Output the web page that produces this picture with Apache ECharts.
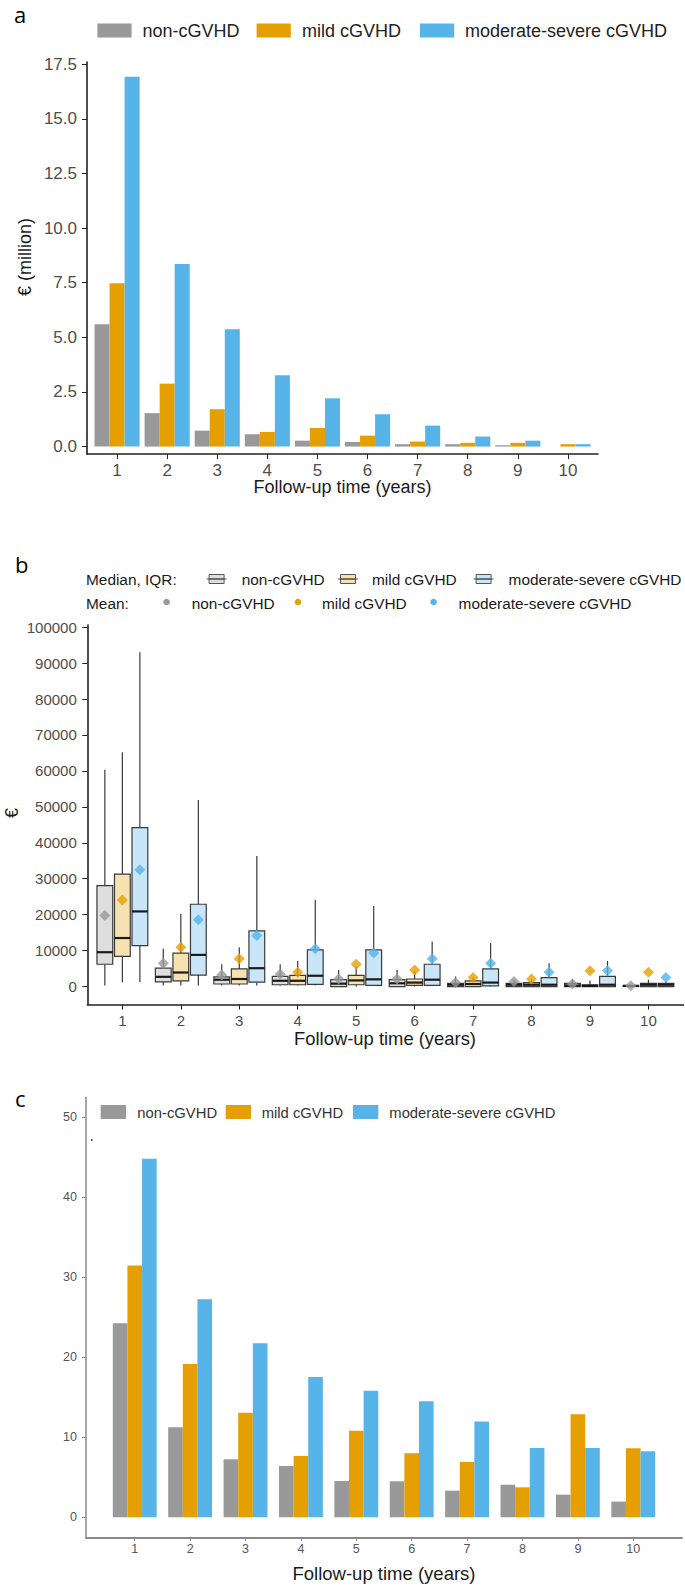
<!DOCTYPE html>
<html><head><meta charset="utf-8">
<script src="https://cdn.jsdelivr.net/npm/echarts@6/dist/echarts.min.js"></script>
<style>html,body{margin:0;padding:0;background:#fff}#c{width:685px;height:1586px}</style>
</head><body><div id="c"></div>
<script>
// ---------- data ----------
const years = [1, 2, 3, 4, 5, 6, 7, 8, 9, 10];
const groups = ['non-cGVHD', 'mild cGVHD', 'moderate-severe cGVHD'];

// Panel a: total cost per follow-up year (€ million)
const aNon  = [5.60, 1.53, 0.73, 0.56, 0.27, 0.21, 0.11, 0.11, 0.06, 0];
const aMild = [7.48, 2.88, 1.71, 0.67, 0.85, 0.50, 0.23, 0.17, 0.17, 0.11];
const aMod  = [16.93, 8.36, 5.37, 3.26, 2.21, 1.48, 0.96, 0.46, 0.27, 0.11];
const aTicks = [0, 2.5, 5, 7.5, 10, 12.5, 15, 17.5];

// Panel b: cost per patient (€): [lower whisker, Q1, median, Q3, upper whisker]
const bNonBox = [[300,6200,9550,28100,60300],[300,1300,2700,5100,10500],[300,700,1900,2700,6200],[300,500,1600,2800,6200],[0,0,800,1900,4600],[0,0,900,1900,4600],[0,0,500,900,2800],[0,0,500,900,1900],[0,0,300,900,2100],[0,0,200,200,200]];
const bMildBox = [[1200,8400,13500,31300,65200],[300,1600,3900,9300,20200],[300,700,2100,4900,10900],[300,500,1600,3100,7100],[0,500,1700,3100,5600],[0,300,1100,2100,4200],[0,0,700,1600,2500],[0,0,500,1100,1900],[0,0,200,500,1700],[0,0,500,900,1900]];
const bModBox = [[1200,11400,20900,44200,93000],[300,3200,8800,22900,51900],[300,1200,5100,15500,36300],[300,600,3000,10200,24100],[300,300,2000,10200,22400],[300,300,1900,6200,12500],[0,200,1100,4900,12100],[0,0,500,2500,6500],[0,0,500,2800,7100],[0,0,500,900,1400]];
const bNonMean  = [19800, 6500, 3200, 3400, 2100, 2100, 1100, 1400, 700, 200];
const bMildMean = [24100, 10900, 7700, 4000, 6200, 4600, 2500, 2100, 4400, 4000];
const bModMean  = [32500, 18600, 14200, 10500, 9300, 7700, 6500, 4000, 4400, 2500];
const bTicks = [0, 10000, 20000, 30000, 40000, 50000, 60000, 70000, 80000, 90000, 100000];

// Panel c
const cNon  = [24.25, 11.25, 7.25, 6.42, 4.54, 4.50, 3.33, 4.08, 2.83, 1.96];
const cMild = [31.46, 19.17, 13.08, 7.67, 10.83, 8.00, 6.92, 3.75, 12.88, 8.63];
const cMod  = [44.83, 27.25, 21.75, 17.54, 15.83, 14.50, 11.96, 8.67, 8.67, 8.25];
const cTicks = [0, 10, 20, 30, 40, 50];

// ---------- styles ----------
const COLORS = ['#999999', '#E69F00', '#56B4E9'];
const FILLS = ['#DEDEDE', '#F8E1B1', '#C9E6F8'];
const FONT = 'Liberation Sans, Arial, sans-serif';
const LETTER_FONT = 'Open Sans, Noto Sans, sans-serif';

const chart = echarts.init(document.getElementById('c'), null, {renderer: 'svg'});

function barSeries(name, vals, idx, axis, width) {
  const off = (idx - 1) * width;
  const color = COLORS[idx];
  return {
    type: 'custom', name, xAxisIndex: axis, yAxisIndex: axis,
    data: years.map((y, i) => [y, vals[i]]),
    encode: {x: 0, y: 1}, itemStyle: {color},
    renderItem: (params, api) => {
      const x = api.value(0), v = api.value(1);
      const p0 = api.coord([x + off - width / 2, 0]);
      const p1 = api.coord([x + off + width / 2, v]);
      return {type: 'rect', shape: {x: p0[0], y: p1[1], width: p1[0] - p0[0], height: p0[1] - p1[1]},
        style: {fill: color}};
    }
  };
}

function boxSeries(name, stats, idx) {
  const off = (idx - 1) * 0.3, w = 0.27;
  return {
    type: 'custom', name, xAxisIndex: 1, yAxisIndex: 1,
    data: years.map((y, i) => [y].concat(stats[i])),
    encode: {x: 0, y: [1, 5]},
    renderItem: (params, api) => {
      const x = api.value(0) + off;
      const lo = api.coord([x, api.value(1)]), q1 = api.coord([x, api.value(2)]);
      const md = api.coord([x, api.value(3)]), q3 = api.coord([x, api.value(4)]);
      const hi = api.coord([x, api.value(5)]);
      const l = api.coord([x - w / 2, 0])[0], r = api.coord([x + w / 2, 0])[0];
      return {type: 'group', children: [
        {type: 'line', shape: {x1: lo[0], y1: lo[1], x2: q1[0], y2: q1[1]}, style: {stroke: '#3a3a3a', lineWidth: 1.2}},
        {type: 'line', shape: {x1: q3[0], y1: q3[1], x2: hi[0], y2: hi[1]}, style: {stroke: '#3a3a3a', lineWidth: 1.2}},
        {type: 'rect', shape: {x: l, y: q3[1], width: r - l, height: q1[1] - q3[1]}, style: {fill: FILLS[idx], stroke: '#3a3a3a', lineWidth: 1.2}},
        {type: 'line', shape: {x1: l, y1: md[1], x2: r, y2: md[1]}, style: {stroke: '#1a1a1a', lineWidth: 2.2}}
      ]};
    }
  };
}

function meanSeries(name, means, idx) {
  const off = (idx - 1) * 0.3;
  return {type: 'scatter', name: name + ' mean', xAxisIndex: 1, yAxisIndex: 1,
    data: years.map((y, i) => [y + off, means[i]]),
    symbol: 'diamond', symbolSize: 11, itemStyle: {color: COLORS[idx]}, z: 5, silent: true};
}

function xAxis(gi, min, max, lineColor, lineW, labelSize, labelColor, margin, tickLen) {
  return {type: 'value', gridIndex: gi, min, max,
    axisLine: {show: true, onZero: false, lineStyle: {color: lineColor, width: lineW}},
    axisTick: {show: true, customValues: years, length: tickLen, lineStyle: {color: lineColor, width: 1}},
    axisLabel: {customValues: years, fontFamily: FONT, fontSize: labelSize, color: labelColor, margin},
    splitLine: {show: false}};
}
function yAxis(gi, min, max, ticks, fmt, lineColor, lineW, labelSize, labelColor, margin, tickLen) {
  return {type: 'value', gridIndex: gi, min, max,
    axisLine: {show: true, onZero: false, lineStyle: {color: lineColor, width: lineW}},
    axisTick: {show: true, customValues: ticks, length: tickLen, lineStyle: {color: lineColor, width: 1}},
    axisLabel: {customValues: ticks, formatter: fmt, fontFamily: FONT, fontSize: labelSize, color: labelColor, margin},
    splitLine: {show: false}};
}

// ---------- legends / titles (graphic) ----------
const graphics = [];
function txt(x, y, s, size, opts) {
  graphics.push(Object.assign({type: 'text', x, y,
    style: Object.assign({text: s, fontFamily: FONT, fontSize: size, fill: '#1a1a1a', align: 'left', verticalAlign: 'middle'}, (opts && opts.style) || {})},
    (opts && opts.el) || {}));
}
// panel letters
txt(14, 14, 'a', 22, {style: {fontFamily: LETTER_FONT, fill: '#000'}});
txt(15, 564, 'b', 22, {style: {fontFamily: LETTER_FONT, fill: '#000'}});
txt(15, 1098, 'c', 22, {style: {fontFamily: LETTER_FONT, fill: '#000'}});

// legend a
const aLegSw = [97.4, 256.6, 420];
const aLegTx = [142.5, 302, 465];
groups.forEach((g, i) => {
  graphics.push({type: 'rect', shape: {x: aLegSw[i], y: 23.5, width: 34.2, height: 14}, style: {fill: COLORS[i]}});
  txt(aLegTx[i], 31, g, 18, {style: {fill: '#222'}});
});
// legend b
txt(86, 579, 'Median, IQR:', 15.4);
txt(86, 603, 'Mean:', 15.4);
const bIcon = [206.6, 338, 473.6];
const bIconTx = [241.7, 372, 508.6];
const bDot = [166.6, 298, 433.6];
const bDotTx = [191.7, 322, 458.6];
groups.forEach((g, i) => {
  const x0 = bIcon[i];
  graphics.push({type: 'line', shape: {x1: x0, y1: 579, x2: x0 + 20, y2: 579}, style: {stroke: '#555', lineWidth: 1}});
  graphics.push({type: 'rect', shape: {x: x0 + 2.5, y: 574.5, width: 15, height: 9}, style: {fill: FILLS[i], stroke: '#555', lineWidth: 1}});
  graphics.push({type: 'line', shape: {x1: x0 + 2.5, y1: 579, x2: x0 + 17.5, y2: 579}, style: {stroke: '#333', lineWidth: 1.3}});
  txt(bIconTx[i], 579, g, 15.4);
  graphics.push({type: 'circle', shape: {cx: bDot[i], cy: 602, r: 3.3}, style: {fill: COLORS[i]}});
  txt(bDotTx[i], 603, g, 15.4);
});
// legend c
const cLegSw = [100.7, 225.7, 353];
const cLegTx = [137.3, 261.7, 389.3];
groups.forEach((g, i) => {
  graphics.push({type: 'rect', shape: {x: cLegSw[i], y: 1105, width: 25.3, height: 14}, style: {fill: COLORS[i]}});
  txt(cLegTx[i], 1112.5, g, 14.8, {style: {fill: '#333'}});
});
// stray dot in panel c
graphics.push({type: 'circle', shape: {cx: 91.7, cy: 1140, r: 0.9}, style: {fill: '#333'}});

// axis titles
txt(342.5, 487, 'Follow-up time (years)', 18, {style: {align: 'center'}});
txt(385, 1038.5, 'Follow-up time (years)', 18.4, {style: {align: 'center'}});
txt(384, 1573, 'Follow-up time (years)', 18.5, {style: {align: 'center'}});
txt(25, 257, '€ (million)', 18, {style: {align: 'center'}, el: {rotation: Math.PI / 2}});
txt(12, 813, '€', 18, {style: {align: 'center'}, el: {rotation: Math.PI / 2}});

const option = {
  animation: false,
  backgroundColor: '#fff',
  grid: [
    {left: 87, top: 62, width: 511, height: 392},
    {left: 87.3, top: 625, width: 596.2, height: 379.5},
    {left: 86, top: 1097.3, width: 596, height: 440}
  ],
  xAxis: [
    xAxis(0, 0.4, 10.6, '#222', 1.6, 17, '#4d4d4d', 8, 5),
    xAxis(1, 0.4, 10.6, '#222', 1.6, 15, '#4d4d4d', 8, 5),
    xAxis(2, 0.12, 10.88, '#8a8a8a', 2, 12.5, '#555', 5.5, 4)
  ],
  yAxis: [
    yAxis(0, -0.34, 17.6, aTicks, v => v.toFixed(1), '#222', 1.6, 17, '#4d4d4d', 10, 5),
    yAxis(1, -5000, 100600, bTicks, v => String(v), '#222', 1.6, 15, '#4d4d4d', 10.5, 5),
    yAxis(2, -2.5, 52.5, cTicks, v => String(v), '#8a8a8a', 1.5, 12.5, '#555', 9, 4)
  ],
  series: [
    barSeries(groups[0], aNon, 0, 0, 0.3),
    barSeries(groups[1], aMild, 1, 0, 0.3),
    barSeries(groups[2], aMod, 2, 0, 0.3),
    boxSeries(groups[0], bNonBox, 0),
    boxSeries(groups[1], bMildBox, 1),
    boxSeries(groups[2], bModBox, 2),
    meanSeries(groups[0], bNonMean, 0),
    meanSeries(groups[1], bMildMean, 1),
    meanSeries(groups[2], bModMean, 2),
    barSeries(groups[0], cNon, 0, 2, 0.264),
    barSeries(groups[1], cMild, 1, 2, 0.264),
    barSeries(groups[2], cMod, 2, 2, 0.264)
  ],
  graphic: graphics
};
chart.setOption(option);
</script></body></html>
